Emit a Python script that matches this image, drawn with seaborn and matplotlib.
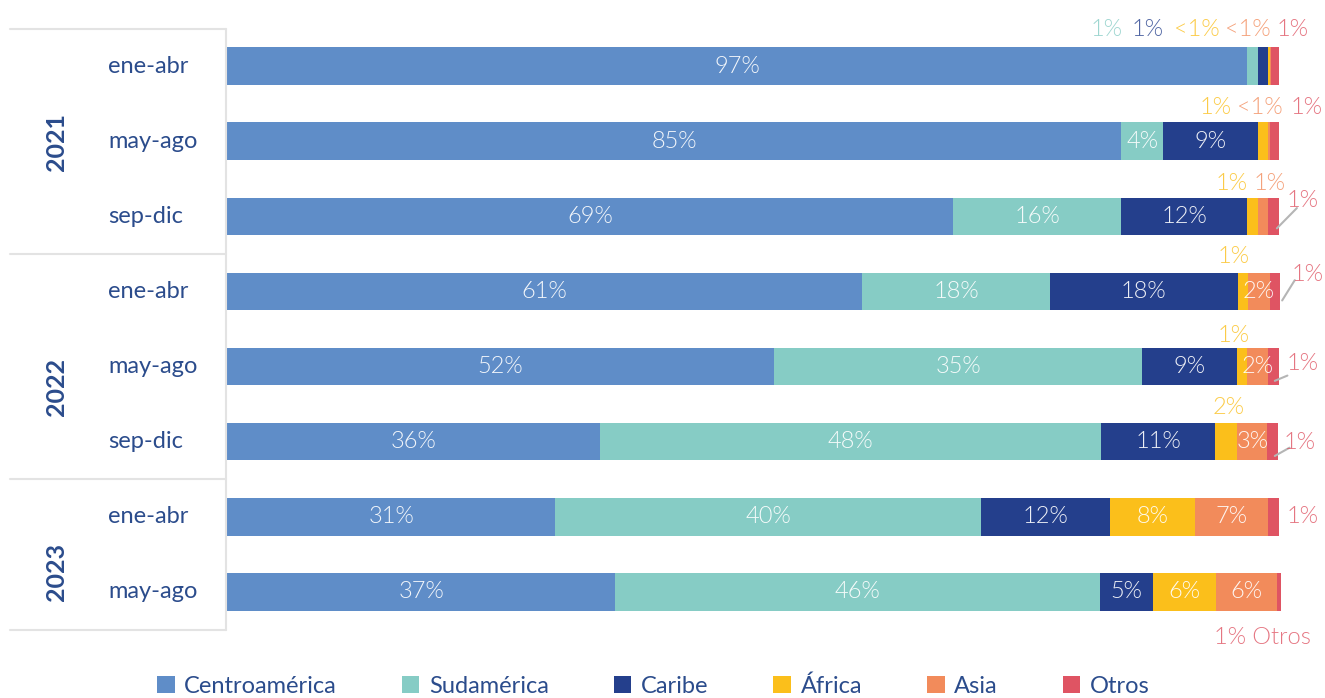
import matplotlib
matplotlib.use("Agg")
import numpy as np
import pandas as pd
import matplotlib.pyplot as plt
from matplotlib.patches import Patch
import seaborn as sns

sns.set_theme(style="white")
plt.rcParams["font.family"] = ["Lato", "DejaVu Sans"]

# =====================================================
# DATA (% por periodo)
# =====================================================

years = ["2021", "2022", "2023"]
periods = ["ene-abr", "may-ago", "sep-dic",
           "ene-abr", "may-ago", "sep-dic",
           "ene-abr", "may-ago"]
row_year = ["2021", "2021", "2021", "2022", "2022", "2022", "2023", "2023"]

categories = ["Centroamérica", "Sudamérica", "Caribe", "África", "Asia", "Otros"]

centro = [97, 85, 69, 60.4, 52, 35.5, 31.2, 36.9]
sud = [1, 4, 16, 17.8, 35, 47.6, 40.5, 46.1]
caribe = [1, 9, 12, 17.9, 9, 10.8, 12.2, 5]
africa = [0.1, 1, 1, 1, 1, 2.1, 8.1, 6]
asia = [0.1, 0.1, 1, 2, 2, 2.9, 7, 5.8]
otros = [0.8, 0.9, 1, 1, 1, 1, 1, 0.4]

lab_centro = ["97%", "85%", "69%", "61%", "52%", "36%", "31%", "37%"]
lab_sud = ["1%", "4%", "16%", "18%", "35%", "48%", "40%", "46%"]
lab_caribe = ["1%", "9%", "12%", "18%", "9%", "11%", "12%", "5%"]
lab_africa = ["<1%", "1%", "1%", "1%", "1%", "2%", "8%", "6%"]
lab_asia = ["<1%", "<1%", "1%", "2%", "2%", "3%", "7%", "6%"]
lab_otros = ["1%", "1%", "1%", "1%", "1%", "1%", "1%", "1%"]

colors = ["#5F8DC8", "#86CCC5", "#243F8C", "#FBBF1B", "#F28B5B", "#DF5463"]
navy = "#2B4C8C"

values = np.array([centro, sud, caribe, africa, asia, otros])
labels = [lab_centro, lab_sud, lab_caribe, lab_africa, lab_asia, lab_otros]
rows = [f"{y} {p}" for y, p in zip(row_year, periods)]
cum = np.cumsum(values, axis=0)

# =====================================================
# FIGURE
# =====================================================

W, H = 1325, 698
fig = plt.figure(figsize=(W / 100, H / 100), dpi=100)
ax = fig.add_axes([227 / W, 1 - 629.5 / H, 1052 / W, 601 / H])

# stacked bars: draw cumulative totals from last to first
for k in reversed(range(len(categories))):
    df = pd.DataFrame({"row": rows, "total": cum[k]})
    sns.barplot(data=df, x="total", y="row", order=rows, color=colors[k],
                orient="h", width=0.5, errorbar=None, saturation=1,
                linewidth=0, ax=ax)

for p in ax.patches:
    p.set_clip_on(False)

ax.set_xlim(0, 100)
ax.set_ylim(7.5, -0.5)
ax.set_xticks([])
ax.set_yticks([])
ax.set_xlabel("")
ax.set_ylabel("")
for s in ax.spines.values():
    s.set_visible(False)

# labels that sit outside the bar (x, y in data units, optional leader line)
outside = {
    (0, 1): (83.6, -0.49, None), (0, 2): (87.5, -0.49, None),
    (0, 3): (92.2, -0.49, None), (0, 4): (97.0, -0.49, None),
    (0, 5): (101.3, -0.49, None),
    (1, 3): (94.0, -0.45, None), (1, 4): (98.2, -0.45, None),
    (1, 5): (102.6, -0.45, None),
    (2, 3): (95.5, -0.44, None), (2, 4): (99.1, -0.44, None),
    (2, 5): (102.2, -0.21, ((99.8, 0.16), (101.7, -0.11))),
    (3, 3): (95.7, -0.47, None),
    (3, 5): (102.7, -0.23, ((100.3, 0.12), (101.5, -0.15))),
    (4, 3): (95.7, -0.41, None),
    (4, 5): (102.2, -0.04, ((99.6, 0.19), (100.8, 0.12))),
    (5, 3): (95.2, -0.45, None),
    (5, 5): (102.0, 0.01, ((99.6, 0.19), (101.0, 0.08))),
    (6, 5): (102.2, 0.0, None),
    (7, 5): (98.4, 0.6, None),
}

txt_size = 17
for r in range(len(rows)):
    for k in range(len(categories)):
        v = values[k, r]
        lab = labels[k][r]
        if (r, k) in outside:
            x, dy, lead = outside[(r, k)]
            if r == 7 and k == 5:
                lab = lab + " Otros"
            ax.text(x, r + dy, lab, ha="center", va="center", color=colors[k],
                    alpha=0.8, fontsize=txt_size, fontweight=300,
                    clip_on=False)
            if lead is not None:
                (x0, y0), (x1, y1) = lead
                ax.plot([x0, x1], [r + y0, r + y1], color="#B5B5B5", lw=1.5,
                        clip_on=False)
        else:
            ax.text(cum[k, r] - v / 2, r, lab, ha="center", va="center",
                    color="white", alpha=0.92, fontsize=txt_size,
                    fontweight=300)

# left panel: period and year labels with separators
line_c = "#E3E3E3"
for yl in [-0.5, 2.5, 5.5, 7.5]:
    ax.plot([-20.6, -0.1], [yl, yl], color=line_c, lw=1.5, clip_on=False)
ax.plot([-0.1, -0.1], [-0.5, 7.5], color=line_c, lw=1.5, clip_on=False)

for r, p in enumerate(periods):
    ax.text(-11.3, r, p, ha="left", va="center", color=navy, fontsize=17,
            clip_on=False)

for y, yc in zip(years, [1.01, 4.27, 6.73]):
    ax.text(-16.2, yc, y, ha="center", va="center", rotation=90, color=navy,
            fontsize=18, fontweight="bold", clip_on=False)

# legend
handles = [Patch(facecolor=c, edgecolor="none") for c in colors]
leg = fig.legend(handles, categories, loc="center", bbox_to_anchor=(0.493, 0.017),
                 ncol=6, frameon=False, handlelength=0.75, handleheight=0.75,
                 handletextpad=0.4, columnspacing=2.75, fontsize=17)
for t in leg.get_texts():
    t.set_color(navy)

fig.savefig("out.png", dpi=100, facecolor="white")
